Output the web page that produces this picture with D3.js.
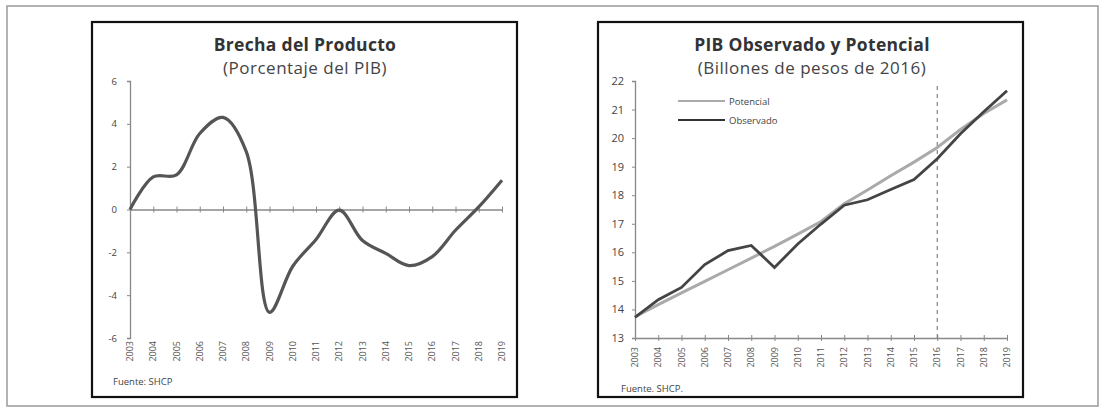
<!DOCTYPE html>
<html>
<head>
<meta charset="utf-8">
<script src="https://cdn.jsdelivr.net/npm/d3@7"></script>
<style>
  body { margin: 0; background: #fff; }
  text { font-family: "Open Sans", sans-serif; fill: #333; }
</style>
</head>
<body>
<div id="chart"></div>
<script>
var width = 1101,
    height = 411;

// años comunes a las dos gráficas
var years = [2003, 2004, 2005, 2006, 2007, 2008, 2009, 2010, 2011, 2012, 2013, 2014, 2015, 2016, 2017, 2018, 2019];

// Brecha del producto (% del PIB)
var brecha = [0, 1.52, 1.62, 3.55, 4.3, 2.7, -4.8, -2.65, -1.4, -0.03, -1.45, -2.05, -2.62, -2.2, -0.97, 0.12, 1.37];
var brechaTicks = [-6, -4, -2, 0, 2, 4, 6];

// PIB observado y potencial (billones de pesos de 2016)
var observado = [13.72, 14.34, 14.77, 15.57, 16.06, 16.24, 15.47, 16.29, 16.99, 17.65, 17.84, 18.2, 18.55, 19.28, 20.15, 20.92, 21.66];
var potencial = [13.75, 14.17, 14.58, 14.98, 15.39, 15.8, 16.21, 16.64, 17.08, 17.7, 18.18, 18.68, 19.16, 19.67, 20.3, 20.86, 21.34];
var pibTicks = [13, 14, 15, 16, 17, 18, 19, 20, 21, 22];

var svg = d3.select("#chart")
    .append("svg")
    .attr("width", width)
    .attr("height", height);

// marco exterior gris
svg.append("rect")
    .attr("x", 7).attr("y", 6)
    .attr("width", 1091).attr("height", 400)
    .attr("fill", "none")
    .attr("stroke", "#9a9a9a")
    .attr("stroke-width", 1.5);

function panel(left, opts) {
  var g = svg.append("g");

  g.append("rect")
      .attr("x", left).attr("y", 22)
      .attr("width", 425).attr("height", 375)
      .attr("fill", "#fff")
      .attr("stroke", "#111")
      .attr("stroke-width", 2.2);

  g.append("text")
      .attr("x", left + opts.titleX).attr("y", 51)
      .attr("text-anchor", "middle")
      .style("font-size", "17.5px")
      .style("font-weight", "bold")
      .style("letter-spacing", "0.3px")
      .text(opts.title);

  g.append("text")
      .attr("x", left + opts.titleX).attr("y", 74)
      .attr("text-anchor", "middle")
      .style("font-size", "17px")
      .style("letter-spacing", "0.5px")
      .style("fill", "#444")
      .text(opts.subtitle);

  var x = d3.scaleLinear()
      .domain([2003, 2019])
      .range([left + opts.plotLeft, left + opts.plotLeft + 372]);

  var y = d3.scaleLinear()
      .domain(opts.yDomain)
      .range([338, 81]);

  // eje y
  var yAxis = g.append("g")
      .attr("transform", "translate(" + x(2003) + ",0)")
      .call(d3.axisLeft(y).tickValues(opts.yTicks).tickSize(3).tickPadding(opts.yPad)
        .tickFormat(function(d) { return String(d); }));
  yAxis.select(".domain").attr("stroke", "#888").attr("stroke-width", 1.3);
  yAxis.selectAll(".tick line").attr("stroke", "#888");
  yAxis.selectAll(".tick text")
      .style("font-family", "'Open Sans', sans-serif")
      .style("font-size", opts.yFont)
      .style("fill", "#444");

  // eje x (línea en el valor base, etiquetas abajo)
  var xAxis = g.append("g")
      .attr("transform", "translate(0," + y(opts.xBase) + ")")
      .call(d3.axisBottom(x).tickValues(years).tickFormat(d3.format("d")).tickSizeInner(3).tickSizeOuter(0));
  xAxis.select(".domain").attr("stroke", "#888").attr("stroke-width", 1.3);
  xAxis.selectAll(".tick line").attr("stroke", "#888").attr("y1", -3);
  xAxis.selectAll(".tick text").remove();

  g.append("g").selectAll("text")
    .data(years)
    .enter().append("text")
      .attr("transform", function(d) { return "translate(" + (x(d) + 3) + "," + opts.labelTop + ") rotate(-90)"; })
      .attr("text-anchor", "end")
      .style("font-size", "9px")
      .style("fill", "#555")
      .text(function(d) { return d; });

  g.append("text")
      .attr("x", left + opts.srcX).attr("y", opts.srcY)
      .style("font-size", "9.5px")
      .style("fill", "#444")
      .text(opts.source);

  return {g: g, x: x, y: y};
}

// ---- Brecha del Producto ----
var p1 = panel(92, {
  title: "Brecha del Producto",
  subtitle: "(Porcentaje del PIB)",
  titleX: 213,
  plotLeft: 38,
  yDomain: [-6, 6],
  yTicks: brechaTicks,
  yPad: 10,
  yFont: "9.5px",
  xBase: 0,
  labelTop: 341,
  srcX: 21,
  srcY: 385,
  source: "Fuente: SHCP"
});

var line1 = d3.line()
    .x(function(d, i) { return p1.x(years[i]); })
    .y(function(d) { return p1.y(d); })
    .curve(d3.curveCatmullRom.alpha(0.5));

p1.g.append("path")
    .datum(brecha)
    .attr("d", line1)
    .attr("fill", "none")
    .attr("stroke", "#555")
    .attr("stroke-width", 3.2);

// ---- PIB Observado y Potencial ----
var p2 = panel(598, {
  title: "PIB Observado y Potencial",
  subtitle: "(Billones de pesos de 2016)",
  titleX: 214,
  plotLeft: 37,
  yDomain: [13, 22],
  yTicks: pibTicks,
  yPad: 8,
  yFont: "11px",
  xBase: 13,
  labelTop: 347,
  srcX: 23,
  srcY: 392,
  source: "Fuente. SHCP."
});

// línea vertical punteada en 2016
p2.g.append("line")
    .attr("x1", p2.x(2016)).attr("x2", p2.x(2016))
    .attr("y1", 86).attr("y2", p2.y(13))
    .attr("stroke", "#777")
    .attr("stroke-width", 1.1)
    .attr("stroke-dasharray", "4,4");

var line2 = d3.line()
    .x(function(d, i) { return p2.x(years[i]); })
    .y(function(d) { return p2.y(d); });

p2.g.append("path")
    .datum(potencial)
    .attr("d", line2)
    .attr("fill", "none")
    .attr("stroke", "#aaa")
    .attr("stroke-width", 3);

p2.g.append("path")
    .datum(observado)
    .attr("d", line2)
    .attr("fill", "none")
    .attr("stroke", "#444")
    .attr("stroke-width", 2.8);

// leyenda
var legend = p2.g.append("g");
var legendItems = [
  {name: "Potencial", color: "#aaa", w: 2.2, y: 101},
  {name: "Observado", color: "#333", w: 2, y: 120}
];
legendItems.forEach(function(d) {
  legend.append("line")
      .attr("x1", 678).attr("x2", 725)
      .attr("y1", d.y).attr("y2", d.y)
      .attr("stroke", d.color)
      .attr("stroke-width", d.w);
  legend.append("text")
      .attr("x", 729).attr("y", d.y + 3.5)
      .style("font-size", "9.5px")
      .style("fill", "#444")
      .text(d.name);
});
</script>
</body>
</html>
